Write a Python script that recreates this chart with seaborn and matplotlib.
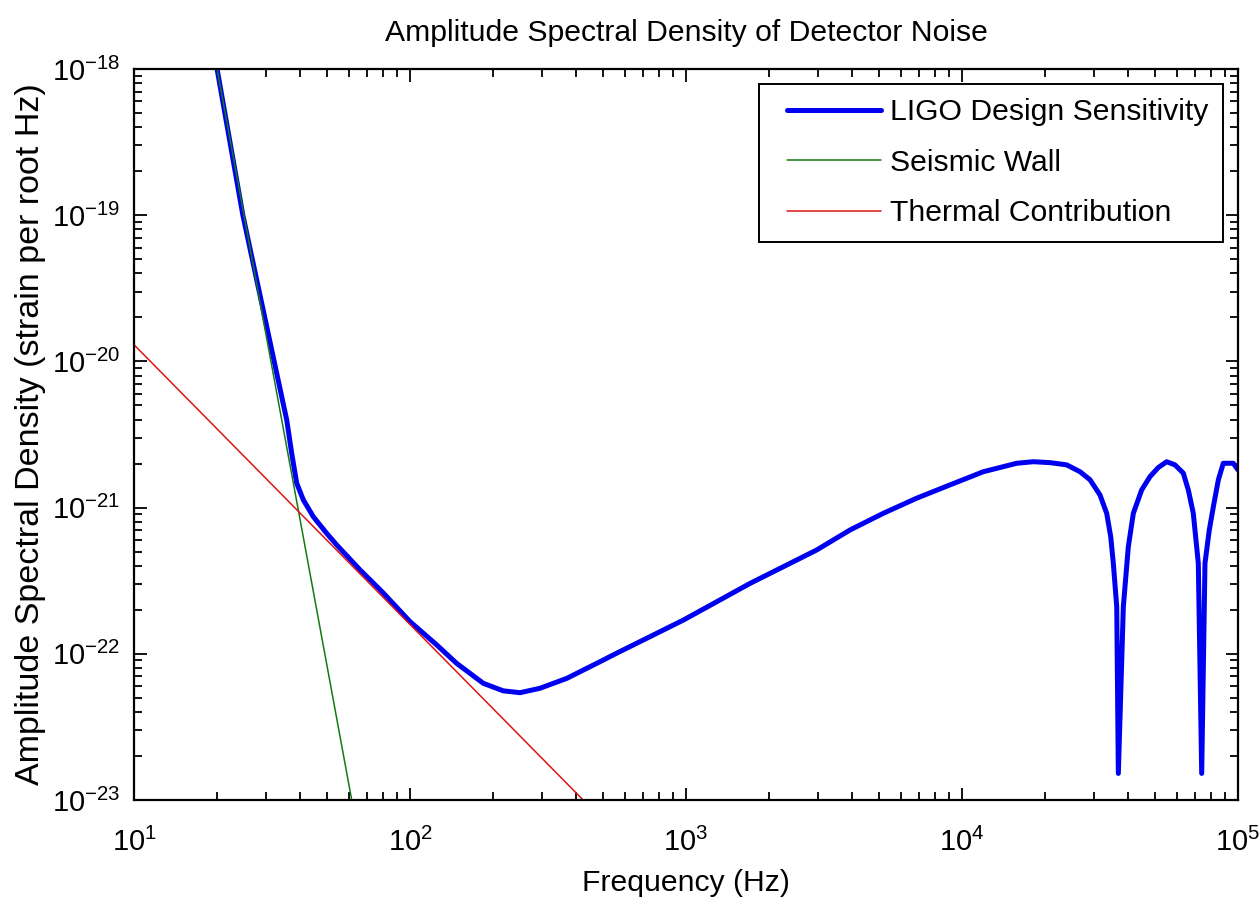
import numpy as np
import pandas as pd
import matplotlib
matplotlib.use("Agg")
import matplotlib.pyplot as plt
import seaborn as sns
from matplotlib.lines import Line2D
from matplotlib.legend_handler import HandlerLine2D

# values (Hz, strain / sqrt(Hz))
ligo_freq = [20, 24.8, 35.76, 37.27, 38.86, 41.06, 44.63, 49.9, 54.27, 65.9,
             80.1, 100, 125, 147.6, 184.4, 217.8, 250.4, 295.8, 369.8, 488,
             561, 740.6, 977.7, 1292, 1706, 2252, 2976, 3929, 5187, 6854, 9047,
             11950, 15790, 18130, 20830, 23950, 26760, 29100, 31620, 33440,
             34580, 35340, 36360, 36850, 38420, 40050, 41760, 44770, 48000,
             51430, 55170, 59110, 63360, 66070, 68870, 71810, 73870, 75920,
             78700, 81380, 84890, 88450, 96150, 100000]
ligo_asd = [1.0e-18, 1.0e-19, 3.97e-21, 2.35e-21, 1.47e-21, 1.13e-21, 8.67e-22,
            6.67e-22, 5.55e-22, 3.75e-22, 2.6e-22, 1.66e-22, 1.15e-22, 8.6e-23,
            6.28e-23, 5.58e-23, 5.42e-23, 5.81e-23, 6.79e-23, 8.83e-23,
            1.01e-22, 1.31e-22, 1.70e-22, 2.27e-22, 3.03e-22, 3.94e-22,
            5.13e-22, 7.03e-22, 9.14e-22, 1.16e-21, 1.43e-21, 1.76e-21,
            2.01e-21, 2.06e-21, 2.03e-21, 1.96e-21, 1.76e-21, 1.55e-21,
            1.22e-21, 9.14e-22, 6.32e-22, 4.16e-22, 2.10e-22, 1.52e-23,
            2.10e-22, 5.4e-22, 9.14e-22, 1.32e-21, 1.63e-21, 1.88e-21, 2.06e-21,
            1.96e-21, 1.72e-21, 1.32e-21, 9.14e-22, 4.16e-22, 1.52e-23, 4.16e-22,
            7.03e-22, 1.01e-21, 1.55e-21, 2.01e-21, 2.01e-21, 1.81e-21]

seismic_freq = [20, 61.5]
seismic_asd = [1.0e-18, 1.0e-23]

thermal_freq = [10, 424]
thermal_asd = [1.3e-20, 1.0e-23]

x_ticks = [1e1, 1e2, 1e3, 1e4, 1e5]
y_ticks = [1e-23, 1e-22, 1e-21, 1e-20, 1e-19, 1e-18]

sns.set_style("ticks")
fam = "Liberation Sans"
plt.rcParams["font.family"] = [fam, "DejaVu Sans"]
plt.rcParams["mathtext.fontset"] = "custom"
plt.rcParams["mathtext.rm"] = fam
plt.rcParams["mathtext.it"] = fam
plt.rcParams["mathtext.sf"] = fam
plt.rcParams["mathtext.default"] = "regular"
plt.rcParams["axes.unicode_minus"] = False
plt.rcParams["text.color"] = "black"
plt.rcParams["axes.labelcolor"] = "black"

fs = 21.7

df_ligo = pd.DataFrame({"f": ligo_freq, "asd": ligo_asd})
df_seis = pd.DataFrame({"f": seismic_freq, "asd": seismic_asd})
df_therm = pd.DataFrame({"f": thermal_freq, "asd": thermal_asd})

fig = plt.figure(figsize=(12.59, 9.06), dpi=100)
ax = fig.add_axes([134/1259, 1-800/906, 1104/1259, 731/906])
ax.set_xscale("log")
ax.set_yscale("log")

sns.lineplot(data=df_ligo, x="f", y="asd", ax=ax, color="#0000f0", lw=3.6,
             estimator=None, sort=False, label="LIGO Design Sensitivity")
sns.lineplot(data=df_seis, x="f", y="asd", ax=ax, color="#137a13", lw=1.1,
             estimator=None, sort=False, label="Seismic Wall")
sns.lineplot(data=df_therm, x="f", y="asd", ax=ax, color="#dd1515", lw=1.1,
             estimator=None, sort=False, label="Thermal Contribution")

ax.set_xticks(x_ticks)
ax.set_yticks(y_ticks)
ax.set_xlim(10, 1e5)
ax.set_ylim(1e-23, 1e-18)

ax.tick_params(which="both", direction="in", top=True, right=True,
               labelsize=21, width=1.3, colors="black")
ax.tick_params(which="major", length=9)
ax.tick_params(which="minor", length=6)
ax.tick_params(axis="x", pad=20)
ax.tick_params(axis="y", pad=10)
for s in ax.spines.values():
    s.set_linewidth(1.6)
    s.set_color("black")

ax.set_title("Amplitude Spectral Density of Detector Noise", fontsize=fs, pad=20,
             color="black")
ax.set_xlabel("Frequency (Hz)", fontsize=fs, labelpad=9, color="black")
ax.set_ylabel("Amplitude Spectral Density (strain per root Hz)", fontsize=24.5,
              labelpad=4, color="black")

leg = ax.legend(loc="upper right", fontsize=fs, frameon=True, fancybox=False,
                framealpha=1, edgecolor="black", handlelength=3.6,
                handletextpad=0.3, labelspacing=0.75, borderaxespad=0.5,
                borderpad=0.47,
                handler_map={Line2D: HandlerLine2D(xpad=0.47)})
leg.get_frame().set_linewidth(1.4)
for t in leg.get_texts():
    t.set_color("black")

fig.savefig("out.png", dpi=100, facecolor="white")
